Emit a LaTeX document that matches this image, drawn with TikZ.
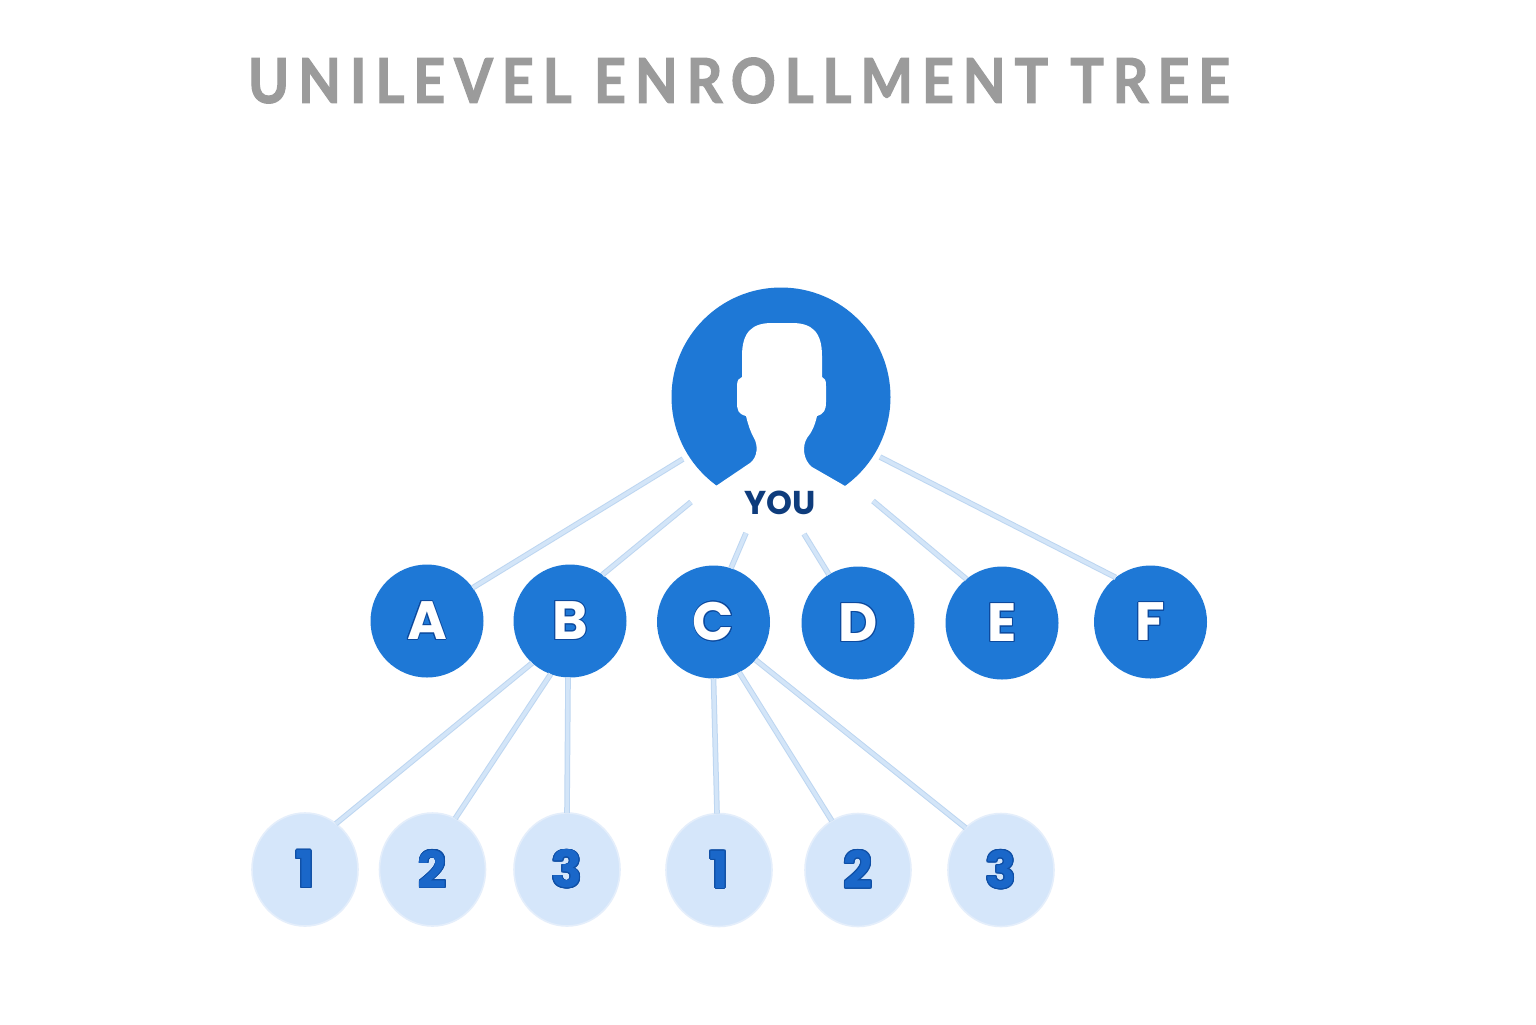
\documentclass[tikz,border=0pt]{standalone}
\usepackage{fontspec}
\usepackage{graphicx}
\usepackage{contour}
\usetikzlibrary{shapes.geometric}
\setmainfont{Poppins}
\newfontfamily\titlefont{Lato}[LetterSpace=16, FakeBold=2]
\definecolor{youblue}{HTML}{1E78D6}
\definecolor{navytext}{HTML}{0E3C7C}
\definecolor{letteredge}{HTML}{0D4A9E}
\definecolor{numblue}{HTML}{1A67C9}
\definecolor{numedge}{HTML}{0F4FA5}
\definecolor{lightfill}{HTML}{D5E6FA}
\definecolor{lightedge}{HTML}{E4EEFB}
\definecolor{linefill}{HTML}{D3E5F8}
\definecolor{lineedge}{HTML}{BDD6F1}
\definecolor{titlegray}{HTML}{9B9B9B}
\contourlength{0.45pt}
\begin{document}
\begin{tikzpicture}[x=0.5pt,y=-0.5pt,
  lvone/.style={circle, fill=youblue, minimum size=56.5pt, inner sep=0pt, outer sep=0pt,
    text=white, font=\bfseries\fontsize{27}{27}\selectfont},
  lvtwo/.style={ellipse, fill=lightfill, draw=lightedge, line width=0.8pt,
    minimum width=53pt, minimum height=56.5pt, inner sep=0pt, outer sep=0pt,
    text=numblue, font=\bfseries\fontsize{25.5}{25.5}\selectfont},
  conn/.style={draw=lineedge, double=linefill, double distance=1.8pt, line width=0.5pt},
  youstyle/.style={circle, fill=youblue, minimum size=109.5pt, inner sep=0pt, outer sep=0pt},
  youtext/.style={text=navytext, inner sep=0pt, font=\bfseries\fontsize{16.5}{16.5}\selectfont},
  titlestyle/.style={inner sep=0pt, text=titlegray}
]
\fill[white] (0,0) rectangle (1536,1024);
\useasboundingbox (0,0) rectangle (1536,1024);

% title
\node[titlestyle] (title) at (739,80.5)
  {\resizebox{491pt}{22.6pt}{\titlefont\bfseries UNILEVEL ENROLLMENT TREE}};

% YOU avatar
\node[youstyle] (you) at (781,397) {};
\begin{scope}
\clip (you.center) circle [radius=56pt];
\fill[white] (710,490) -- (750,463)
  .. controls (758,457) and (758,445) .. (754,438)
  .. controls (750,431) and (748,424) .. (746,416)
  .. controls (738,414) and (737,410) .. (737,402)
  -- (737,386)
  .. controls (737,380) and (739,378) .. (742,377)
  -- (742,356)
  .. controls (742,332) and (752,323) .. (772,323)
  -- (792,323)
  .. controls (812,323) and (822,332) .. (822,356)
  -- (822,377)
  .. controls (825,378) and (826,380) .. (826,386)
  -- (826,402)
  .. controls (826,410) and (824,414) .. (817,416)
  .. controls (815,425) and (812,432) .. (807,438)
  .. controls (802,446) and (803,460) .. (812,467)
  -- (852,490) -- (870,540) -- (690,540) -- cycle;
\end{scope}
\node[youtext] (youlabel) at (780,503) {YOU};

% level one
\node[lvone] (A) at (427,621) {\contour{letteredge}{A}};
\node[lvone] (B) at (570,621) {\contour{letteredge}{B}};
\node[lvone] (C) at (713.5,622) {\contour{letteredge}{C}};
\node[lvone] (D) at (858,623) {\contour{letteredge}{D}};
\node[lvone] (E) at (1002,623) {\contour{letteredge}{E}};
\node[lvone] (F) at (1150.5,622) {\contour{letteredge}{F}};

% level two
\node[lvtwo] (n1) at (305,869.5) {\contour{numedge}{1}};
\node[lvtwo] (n2) at (432.5,869.5) {\contour{numedge}{2}};
\node[lvtwo] (n3) at (567,869.5) {\contour{numedge}{3}};
\node[lvtwo] (m1) at (719,870) {\contour{numedge}{1}};
\node[lvtwo] (m2) at (858,870) {\contour{numedge}{2}};
\node[lvtwo] (m3) at (1001,870) {\contour{numedge}{3}};

% connector start points below the avatar
\coordinate (yA) at (683,459);
\coordinate (yB) at (691,502);
\coordinate (yC) at (746,533);
\coordinate (yD) at (804,534);
\coordinate (yE) at (873,501);
\coordinate (yF) at (880,457);

\draw[conn] (yA) -- (A.36);
\draw[conn] (yB) -- (B.55);
\draw[conn] (yC) -- (C.72);
\draw[conn] (yD) -- (D.121);
\draw[conn] (yE) -- (E.129);
\draw[conn] (yF) -- (F.128);

\draw[conn] (B.228) -- (n1.56);
\draw[conn] (B.250) -- (n2.66);
\draw[conn] (B.268) -- (n3.90);
\draw[conn] (C.270) -- (m1.92);
\draw[conn] (C.297) -- (m2.118);
\draw[conn] (C.318) -- (m3.130);
\end{tikzpicture}
\end{document}
